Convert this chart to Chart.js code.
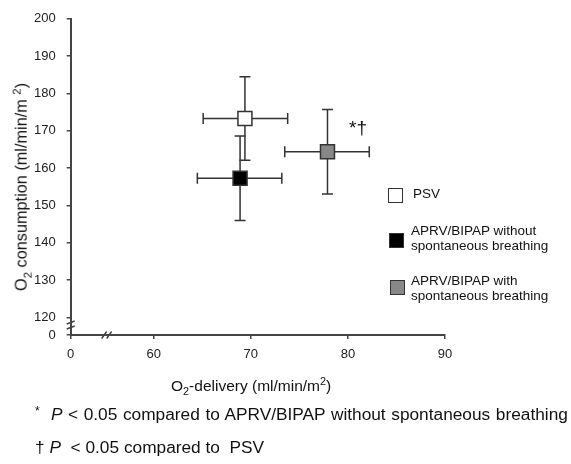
<!DOCTYPE html>
<html>
<head>
<meta charset="utf-8">
<script src="https://cdn.jsdelivr.net/npm/chart.js@4.4.1/dist/chart.umd.min.js"></script>
<style>
  html, body { margin: 0; padding: 0; background: #fff; }
  #wrap { position: relative; width: 571px; height: 464px; font-family: "Liberation Sans", Arial, sans-serif; color: #111; }
  #chart { position: absolute; left: 0; top: 0; }
  .txt { position: absolute; white-space: nowrap; }
  .box { position: absolute; box-sizing: border-box; border: 1.5px solid #333; }
  .leg { font-size: 13.5px; line-height: 14.5px; }
  .foot { font-size: 17.3px; }
  sub, sup { font-size: 70%; }
</style>
</head>
<body>
<div id="wrap">
  <canvas id="chart" width="571" height="464"></canvas>

  <div class="txt" id="yTitle" style="left:22px; top:187px; font-size:16.3px; transform: translate(-50%, -50%) rotate(-90deg);">O<sub>2</sub> consumption (ml/min/m <sup>2</sup>)</div>
  <div class="txt" id="xTitle" style="left:171px; top:375px; font-size:15.5px;">O<sub>2</sub>-delivery (ml/min/m<sup>2</sup>)</div>

  <div class="txt" style="left:349px; top:117px; font-size:19px;">*†</div>

  <div class="box" style="left:388px; top:188px; width:15px; height:15px; background:#fff;"></div>
  <div class="txt leg" style="left:413px; top:187px;">PSV</div>
  <div class="box" style="left:389px; top:233px; width:15px; height:15px; background:#000;"></div>
  <div class="txt leg" style="left:411px; top:224px;">APRV/BIPAP without<br>spontaneous breathing</div>
  <div class="box" style="left:390px; top:280px; width:15px; height:15px; background:#888;"></div>
  <div class="txt leg" style="left:411px; top:274px;">APRV/BIPAP with<br>spontaneous breathing</div>

  <div class="txt foot" style="left:35px; top:404px; word-spacing:0.8px;"><span style="font-size:12px; vertical-align:5px;">*</span>&nbsp; <i>P</i> &lt; 0.05 compared to APRV/BIPAP without spontaneous breathing</div>
  <div class="txt foot" style="left:35px; top:437px;">† <i>P</i> &nbsp;&lt; 0.05 compared to &nbsp;PSV</div>
</div>

<script>
// groups (same order everywhere)
const groups = ['PSV', 'APRV/BIPAP without spontaneous breathing', 'APRV/BIPAP with spontaneous breathing'];
const groupColors = ['#ffffff', '#000000', '#888888'];

// O2 delivery, ml/min/m2 (mean and error bar ends)
const o2Delivery = [69.4, 68.9, 77.9];
const deliveryLow = [65.1, 64.5, 73.5];
const deliveryHigh = [73.8, 73.2, 82.2];

// O2 consumption, ml/min/m2 (mean and error bar ends)
const o2Consumption = [173.3, 157.3, 164.4];
const consumptionLow = [162.1, 146.0, 153.1];
const consumptionHigh = [184.5, 168.6, 175.7];

// tick labels
const xTickValues = [0, 60, 70, 80, 90];
const xTickLabels = ['0', '60', '70', '80', '90'];
const yTickValues = [0, 120, 130, 140, 150, 160, 170, 180, 190, 200];
const yTickLabels = ['0', '120', '130', '140', '150', '160', '170', '180', '190', '200'];

// broken axes: everything below the break is squeezed into a short stretch
const X_CUT = 60, X_ZERO_AT = 51.46, X_BREAK = 26;
const Y_CUT = 120, Y_ZERO_AT = 115.3, Y_BREAK = 68;

function xPos(v) {
  return v < X_CUT ? X_ZERO_AT + v * (X_CUT - X_ZERO_AT) / X_CUT : v;
}
function yPos(v) {
  return v < Y_CUT ? Y_ZERO_AT + v * (Y_CUT - Y_ZERO_AT) / Y_CUT : v;
}

const axisColor = '#444';
const tickFont = { family: '"Liberation Sans", Arial, sans-serif', size: 13 };

// error bars, drawn under the squares
const errorBarPlugin = {
  id: 'errorBars',
  beforeDatasetsDraw(chart) {
    const ctx = chart.ctx;
    const xs = chart.scales.x;
    const ys = chart.scales.y;
    const cap = 5.5;
    ctx.save();
    ctx.strokeStyle = '#333';
    ctx.lineWidth = 1.5;
    for (let i = 0; i < groups.length; i++) {
      const cx = xs.getPixelForValue(xPos(o2Delivery[i]));
      const cy = ys.getPixelForValue(yPos(o2Consumption[i]));
      const x1 = xs.getPixelForValue(xPos(deliveryLow[i]));
      const x2 = xs.getPixelForValue(xPos(deliveryHigh[i]));
      const y1 = ys.getPixelForValue(yPos(consumptionLow[i]));
      const y2 = ys.getPixelForValue(yPos(consumptionHigh[i]));
      ctx.beginPath();
      // horizontal
      ctx.moveTo(x1, cy); ctx.lineTo(x2, cy);
      ctx.moveTo(x1, cy - cap); ctx.lineTo(x1, cy + cap);
      ctx.moveTo(x2, cy - cap); ctx.lineTo(x2, cy + cap);
      // vertical
      ctx.moveTo(cx, y1); ctx.lineTo(cx, y2);
      ctx.moveTo(cx - cap, y1); ctx.lineTo(cx + cap, y1);
      ctx.moveTo(cx - cap, y2); ctx.lineTo(cx + cap, y2);
      ctx.stroke();
    }
    ctx.restore();
  },
};

// the little // marks on both axes
const axisBreakPlugin = {
  id: 'axisBreaks',
  afterDraw(chart) {
    const ctx = chart.ctx;
    const xs = chart.scales.x;
    const ys = chart.scales.y;
    const bx = xs.getPixelForValue(xPos(X_BREAK));
    const by = ys.getPixelForValue(yPos(Y_BREAK));
    const ax = xs.left;
    const ay = ys.bottom;
    ctx.save();
    ctx.strokeStyle = axisColor;
    ctx.lineWidth = 1.5;
    ctx.beginPath();
    for (const d of [-2.5, 2.5]) {
      ctx.moveTo(bx + d - 2.5, ay + 3.5);
      ctx.lineTo(bx + d + 2.5, ay - 3.5);
      ctx.moveTo(ax - 4, by + d + 1.5);
      ctx.lineTo(ax + 4, by + d - 1.5);
    }
    ctx.stroke();
    ctx.restore();
  },
};

const ctx = document.getElementById('chart').getContext('2d');
new Chart(ctx, {
  type: 'scatter',
  data: {
    datasets: [
      {
        label: 'O2',
        data: groups.map((g, i) => ({ x: xPos(o2Delivery[i]), y: yPos(o2Consumption[i]) })),
        backgroundColor: groupColors,
        borderColor: '#333',
        borderWidth: 1.5,
        pointStyle: 'rect',
        pointRadius: 9.9,
        pointHoverRadius: 9.9,
      },
    ],
  },
  options: {
    responsive: false,
    animation: false,
    layout: { padding: { top: 15, left: 0, right: 126, bottom: 0 } },
    plugins: {
      legend: { display: false },
      tooltip: { enabled: false },
    },
    scales: {
      x: {
        type: 'linear',
        min: X_ZERO_AT,
        max: 90,
        afterFit(scale) { scale.height = 129; },
        afterBuildTicks(scale) {
          scale.ticks = xTickValues.map((v) => ({ value: xPos(v) }));
        },
        ticks: {
          autoSkip: false,
          maxRotation: 0,
          padding: 8,
          color: '#222',
          font: tickFont,
          callback: (value, index) => xTickLabels[index],
        },
        grid: { drawOnChartArea: false, drawTicks: true, tickLength: 4, color: axisColor, lineWidth: 1.5 },
        border: { color: axisColor, width: 2 },
      },
      y: {
        type: 'linear',
        min: Y_ZERO_AT,
        max: 200,
        afterFit(scale) { scale.width = 70.7; },
        afterBuildTicks(scale) {
          scale.ticks = yTickValues.map((v) => ({ value: yPos(v) }));
        },
        ticks: {
          autoSkip: false,
          padding: 11,
          color: '#222',
          font: tickFont,
          callback: (value, index) => yTickLabels[index],
        },
        grid: { drawOnChartArea: false, drawTicks: true, tickLength: 4, color: axisColor, lineWidth: 1.5 },
        border: { color: axisColor, width: 2 },
      },
    },
  },
  plugins: [errorBarPlugin, axisBreakPlugin],
});
</script>
</body>
</html>
